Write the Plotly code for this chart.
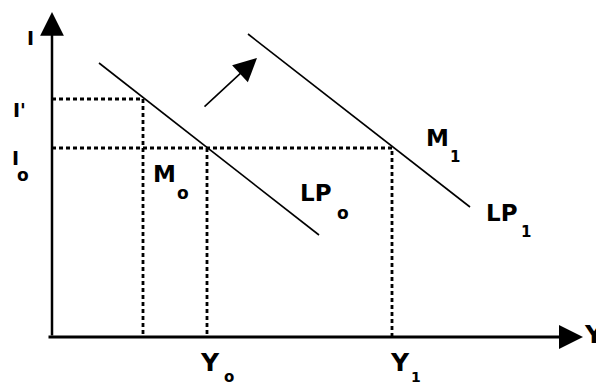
import plotly.graph_objects as go

# Economic values (arbitrary units): income Y and interest rate I
Y_prime, Y0, Y1 = 9.1, 15.5, 34.0
I0, I_prime = 18.9, 23.8

# LP curves (two endpoints each)
lp0_x = [4.7, 26.7]
lp0_y = [27.4, 10.2]
lp1_x = [19.6, 41.8]
lp1_y = [30.3, 13.0]

# shift arrow
shift_x = [15.1, 20.5]
shift_y = [22.9, 27.9]

# axis extents
x_axis_x = [-0.5, 53.1]
y_axis_y = [0.0, 32.5]

FONT = "DejaVu Sans"

fig = go.Figure()

dot = dict(color="black", width=2.8, dash="4px,3px")
solid = dict(color="black", width=1.6)

# dashed guides
fig.add_trace(go.Scatter(x=[0, Y_prime, Y_prime], y=[I_prime, I_prime, 0], mode="lines", line=dot))
fig.add_trace(go.Scatter(x=[0, Y1, Y1], y=[I0, I0, 0], mode="lines", line=dot))
fig.add_trace(go.Scatter(x=[Y0, Y0], y=[I0, 0], mode="lines", line=dot))

# LP curves
fig.add_trace(go.Scatter(x=lp0_x, y=lp0_y, mode="lines", line=solid))
fig.add_trace(go.Scatter(x=lp1_x, y=lp1_y, mode="lines", line=solid))

ann = []
# axes with arrowheads
ann.append(dict(x=x_axis_x[1], y=0, ax=x_axis_x[0], ay=0, xref="x", yref="y", axref="x", ayref="y",
                text="", showarrow=True, arrowhead=2, arrowwidth=3, arrowsize=1.6, arrowcolor="black"))
ann.append(dict(x=0, y=y_axis_y[1], ax=0, ay=y_axis_y[0], xref="x", yref="y", axref="x", ayref="y",
                text="", showarrow=True, arrowhead=2, arrowwidth=2.5, arrowsize=1.9, arrowcolor="black"))
# shift arrow
ann.append(dict(x=shift_x[1], y=shift_y[1], ax=shift_x[0], ay=shift_y[0], xref="x", yref="y", axref="x", ayref="y",
                text="", showarrow=True, arrowhead=2, arrowwidth=1.6, arrowsize=2.9, arrowcolor="black"))

def lab(x, y, t, size, xanchor="center"):
    ann.append(dict(x=x, y=y, xref="x", yref="y", text="<b>%s</b>" % t, showarrow=False,
                    xanchor=xanchor, yanchor="middle", font=dict(family=FONT, size=size, color="black")))

# labels
lab(-2.2, 29.9, "I", 19)
lab(-3.3, 22.7, "I'", 19)
lab(-3.7, 17.9, "I", 19)
lab(-2.9, 16.2, "o", 17)
lab(11.2, 16.3, "M", 23)
lab(13.1, 14.4, "o", 17)
lab(26.4, 14.4, "LP", 23)
lab(29.1, 12.4, "o", 17)
lab(38.5, 19.9, "M", 23)
lab(40.3, 18.0, "1", 15)
lab(45.0, 12.4, "LP", 23)
lab(47.4, 10.5, "1", 15)
lab(15.8, -2.5, "Y", 25)
lab(17.7, -3.95, "o", 15)
lab(34.8, -2.5, "Y", 25)
lab(36.4, -4.0, "1", 14)
lab(53.0, 0.3, "Y", 25, xanchor="left")

fig.update_layout(
    width=596, height=387,
    margin=dict(l=0, r=0, t=0, b=0),
    paper_bgcolor="white", plot_bgcolor="white",
    showlegend=False,
    annotations=ann,
    xaxis=dict(range=[-5.2, 54.4], visible=False, fixedrange=True),
    yaxis=dict(range=[-5.0, 33.7], visible=False, fixedrange=True),
)

fig.write_html("out.html", config={"displayModeBar": False},
               post_script="document.body.style.margin='0';document.body.style.overflow='hidden';")
